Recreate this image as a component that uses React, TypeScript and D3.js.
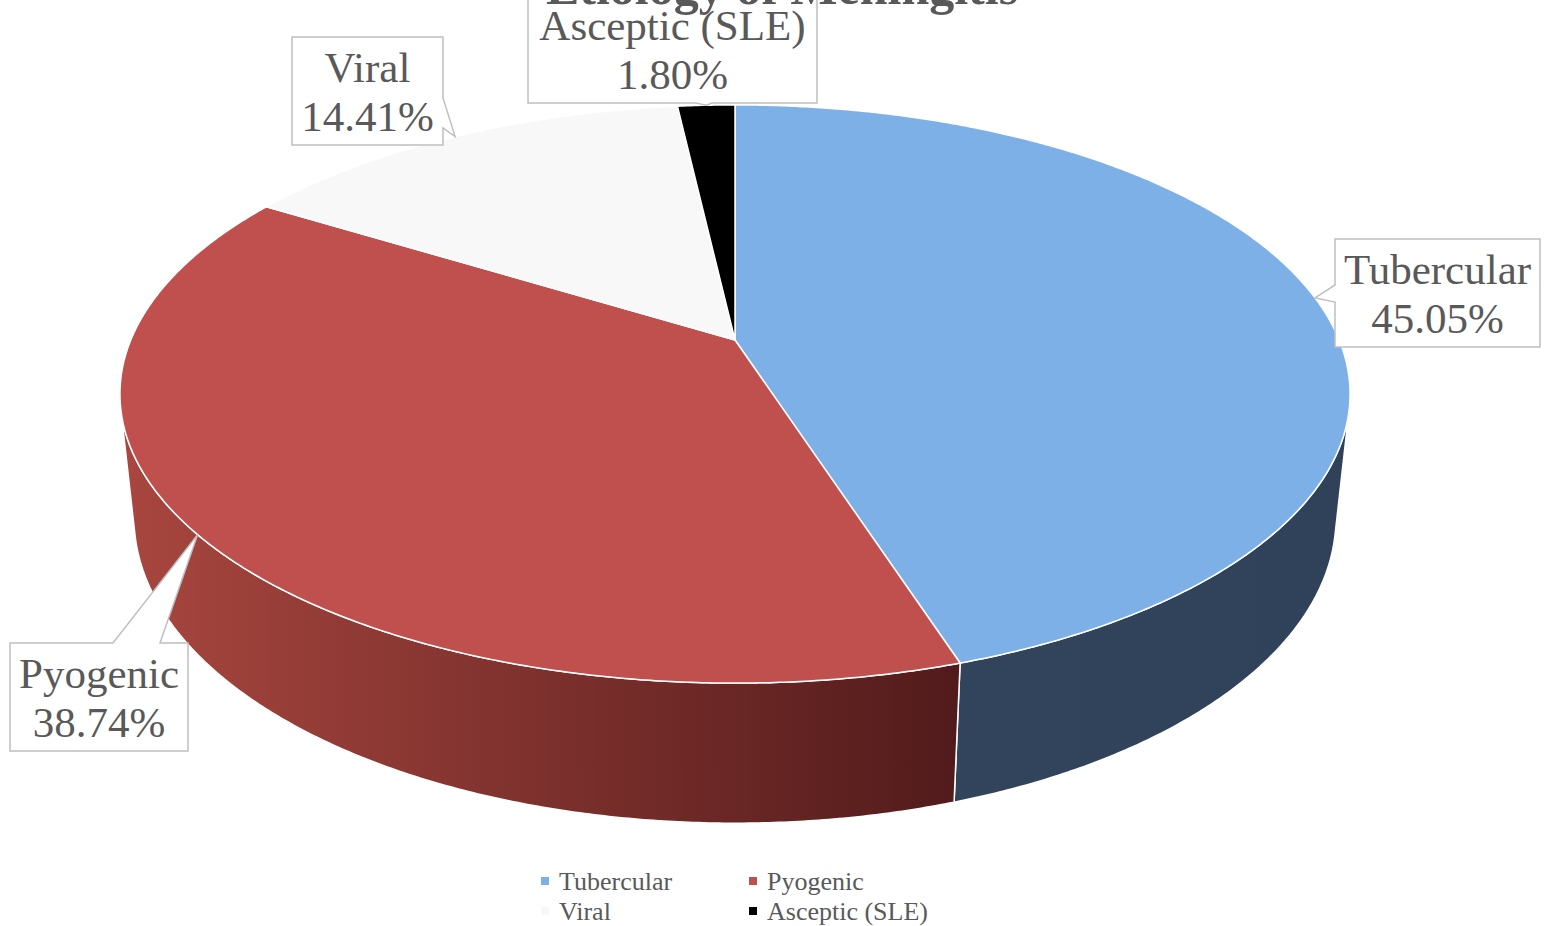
import React from "react";
import * as d3 from "d3";

// ---- data ----
const chartTitle = "Etiology of Meningitis";
const categories = ["Tubercular", "Pyogenic", "Viral", "Asceptic (SLE)"];
const caseCounts = [50, 43, 16, 2];
const topColors = ["#7EB0E8", "#C0504D", "#F8F8F8", "#000000"];
const sideStops = [
  ["#35495F", "#2F4259"],
  ["#A8463F", "#521B1B"],
  ["#D9D9D9", "#C9C9C9"],
  ["#000000", "#000000"],
];

// ---- layout ----
const WIDTH = 1556;
const HEIGHT = 926;
const FONT = '"Liberation Serif", "Times New Roman", serif';
const TEXT_COLOR = "#595959";

// perspective camera looking down on a unit-radius disc
const CX = 735;
const CY = 340;
const FOCAL = 2868.8;
const CAM_DIST = 4.748;
const TILT = (27.5 * Math.PI) / 180;
const THICKNESS = 0.233;
const SIN_T = Math.sin(TILT);
const COS_T = Math.cos(TILT);

function project(a: number, h: number): [number, number] {
  const x = Math.sin(a);
  const z = -Math.cos(a);
  const depth = CAM_DIST - (h * SIN_T + z * COS_T);
  const up = h * COS_T - z * SIN_T;
  return [CX + (FOCAL * x) / depth, CY - (FOCAL * up) / depth];
}

function arcPoints(a0: number, a1: number, h: number): [number, number][] {
  const step = (0.4 * Math.PI) / 180;
  const n = Math.max(2, Math.ceil(Math.abs(a1 - a0) / step));
  const pts: [number, number][] = [];
  for (let i = 0; i <= n; i++) pts.push(project(a0 + ((a1 - a0) * i) / n, h));
  return pts;
}

const line = d3.line<[number, number]>();

// the outer wall faces the camera where cos(a) < -1 / (dist * cos(tilt))
const SIDE_MIN = Math.acos(-1 / (CAM_DIST * COS_T));
const SIDE_MAX = 2 * Math.PI - SIDE_MIN;

type Box = { x: number; y: number; w: number; h: number; side: string; b0: number; b1: number };
const labelBoxes: Record<string, Box> = {
  Tubercular: { x: 1335, y: 239, w: 205, h: 108, side: "left", b0: 285, b1: 302 },
  Pyogenic: { x: 10, y: 643, w: 178, h: 108, side: "top", b0: 113, b1: 160 },
  Viral: { x: 292, y: 37, w: 151, h: 108, side: "right", b0: 98, b1: 128 },
  "Asceptic (SLE)": { x: 528, y: -5, w: 289, h: 108, side: "bottom", b0: 696, b1: 712 },
};

const legendCols = [541, 749];
const legendRows = [881, 911];

function calloutPath(b: Box, tip: [number, number]): string {
  const { x, y, w, h, side, b0, b1 } = b;
  const p: string[] = [`M${x},${y}`];
  if (side === "top") p.push(`L${b0},${y}`, `L${tip[0]},${tip[1]}`, `L${b1},${y}`);
  p.push(`L${x + w},${y}`);
  if (side === "right") p.push(`L${x + w},${b0}`, `L${tip[0]},${tip[1]}`, `L${x + w},${b1}`);
  p.push(`L${x + w},${y + h}`);
  if (side === "bottom") p.push(`L${b1},${y + h}`, `L${tip[0]},${tip[1]}`, `L${b0},${y + h}`);
  p.push(`L${x},${y + h}`);
  if (side === "left") p.push(`L${x},${b1}`, `L${tip[0]},${tip[1]}`, `L${x},${b0}`);
  p.push("Z");
  return p.join("");
}

export default function App() {
  const rows = categories.map((c, i) => ({ name: c, value: caseCounts[i], i }));
  const total = d3.sum(caseCounts);
  const pct = d3.format(".2%");
  const arcs = d3
    .pie<(typeof rows)[number]>()
    .sort(null)
    .value((d) => d.value)(rows);

  const sides = arcs
    .map((a) => {
      const s = Math.max(a.startAngle, SIDE_MIN);
      const e = Math.min(a.endAngle, SIDE_MAX);
      if (e <= s) return null;
      const top = arcPoints(s, e, 0);
      const bottom = arcPoints(e, s, -THICKNESS);
      return { i: a.data.i, d: line([...top, ...bottom])! + "Z" };
    })
    .filter(Boolean) as { i: number; d: string }[];

  const center = project(0, 0);
  const center2: [number, number] = [CX, CY];
  const tops = arcs.map((a) => ({
    i: a.data.i,
    d: line([center2, ...arcPoints(a.startAngle, a.endAngle, 0)])! + "Z",
  }));
  void center;

  return (
    <svg
      width={WIDTH}
      height={HEIGHT}
      style={{ position: "absolute", left: 0, top: 0, display: "block", background: "#fff" }}
    >
      <defs>
        {sideStops.map((s, i) => (
          <linearGradient key={i} id={`side${i}`} gradientUnits="userSpaceOnUse" x1={125} x2={1350} y1={0} y2={0}>
            <stop offset="0" stopColor={s[0]} />
            <stop offset={i === 1 ? 0.68 : 1} stopColor={s[1]} />
          </linearGradient>
        ))}
      </defs>

      {/* outer walls */}
      {sides.map((s) => (
        <path key={`s${s.i}`} d={s.d} fill={`url(#side${s.i})`} stroke="#fff" strokeWidth={1.5} strokeLinejoin="round" />
      ))}

      {/* top faces */}
      {tops.map((t) => (
        <path key={`t${t.i}`} d={t.d} fill={topColors[t.i]} stroke="#fff" strokeWidth={1.5} strokeLinejoin="round" />
      ))}

      {/* data labels */}
      {arcs.map((a) => {
        const b = labelBoxes[a.data.name];
        const tip = project((a.startAngle + a.endAngle) / 2, 0);
        const cx = b.x + b.w / 2;
        const cy = b.y + b.h / 2;
        return (
          <g key={`l${a.data.i}`}>
            <path d={calloutPath(b, tip)} fill="#fff" stroke="#BFBFBF" strokeWidth={1.5} />
            <text x={cx} y={cy - 9.5} textAnchor="middle" fontFamily={FONT} fontSize={43} fill={TEXT_COLOR}>
              {a.data.name}
            </text>
            <text x={cx} y={cy + 39.5} textAnchor="middle" fontFamily={FONT} fontSize={43} fill={TEXT_COLOR}>
              {pct(a.data.value / total)}
            </text>
          </g>
        );
      })}

      {/* title */}
      <text x={782} y={4} textAnchor="middle" fontFamily={FONT} fontWeight="bold" fontSize={50} fill={TEXT_COLOR}>
        {chartTitle}
      </text>

      {/* legend */}
      {categories.map((c, i) => {
        const x = legendCols[i % 2];
        const y = legendRows[Math.floor(i / 2)];
        return (
          <g key={`lg${i}`}>
            <rect x={x} y={y - 4} width={8} height={8} fill={topColors[i]} />
            <text x={x + 18} y={y + 8.5} fontFamily={FONT} fontSize={26} fill={TEXT_COLOR}>
              {c}
            </text>
          </g>
        );
      })}
    </svg>
  );
}
